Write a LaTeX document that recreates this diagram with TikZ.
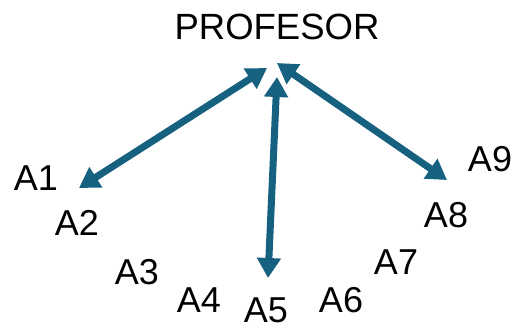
\documentclass[tikz,border=0pt]{standalone}
\usepackage{fontspec}
\setmainfont{Liberation Sans}
\usetikzlibrary{arrows.meta}
\definecolor{arrowblue}{RGB}{22,96,128}
\tikzset{
  lbl/.style={inner sep=0pt, font=\fontsize{36}{40}\selectfont},
  title/.style={inner sep=0pt, font=\fontsize{36.5}{42}\selectfont},
  link/.style={draw=arrowblue, line width=7pt,
    {Triangle[length=20pt,width=23pt]}-{Triangle[length=20pt,width=23pt]}}
}
\begin{document}
\begin{tikzpicture}[x=1pt,y=-1pt]
\useasboundingbox (0,0) rectangle (519,330);
\node[title] (prof) at (277,27) {PROFESOR};
\node[lbl] (a1) at (36,178) {A1};
\node[lbl] (a2) at (77,223) {A2};
\node[lbl] (a3) at (137,272) {A3};
\node[lbl] (a4) at (199,300) {A4};
\node[lbl] (a5) at (266,310) {A5};
\node[lbl] (a6) at (341,300) {A6};
\node[lbl] (a7) at (396,262) {A7};
\node[lbl] (a8) at (446,215) {A8};
\node[lbl] (a9) at (490,159) {A9};
\coordinate (lt) at (267,68);
\coordinate (lb) at (79,188);
\coordinate (mt) at (277,77);
\coordinate (mb) at (268,278);
\coordinate (rt) at (277,63);
\coordinate (rb) at (447,180);
\draw[link] (lb) -- (lt);
\draw[link] (mb) -- (mt);
\draw[link] (rb) -- (rt);
\end{tikzpicture}
\end{document}
